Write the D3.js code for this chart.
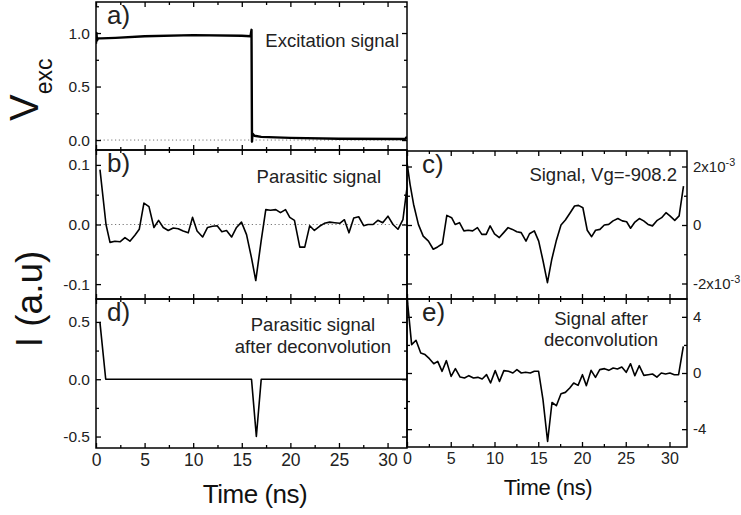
<!DOCTYPE html>
<html lang="en">
<head>
<meta charset="UTF-8">
<title>Excitation, parasitic and deconvolved signals</title>
<script src="https://d3js.org/d3.v7.min.js"></script>
<style>
  body { margin: 0; background: #fff; }
  svg { font-family: "Liberation Sans", Arial, sans-serif; }
  .frame { fill: none; stroke: #000; stroke-width: 1.5px; }
  .trace { fill: none; stroke: #000; stroke-width: 1.6px; stroke-linejoin: round; }
  .thick { stroke-width: 2.4px; }
  .zero { stroke: #777; stroke-width: 1px; stroke-dasharray: 1.2 2.6; }
  .axis path { display: none; }
  .axis line { stroke: #000; stroke-width: 1.3px; }
  .axis text { fill: #222; }
  .note { fill: #222; }
</style>
</head>
<body>
<svg id="chart" width="741" height="515"></svg>
<script>
// a) excitation signal
const timeA = [0, 0.05, 0.1, 0.2, 0.5, 2, 5, 10, 15, 15.9, 16.0, 16.05, 16.1, 16.3, 17, 20, 25, 31.8, 32];
const vexcA = [0.9, 1.0, 0.93, 0.95, 0.95, 0.955, 0.97, 0.98, 0.975, 0.97, 1.03, -0.015, 0.06, 0.04, 0.03, 0.02, 0.012, 0.01, 0.03];

// b) parasitic signal
const timeB = [0.41, 1.03, 1.44, 1.95, 2.47, 2.98, 3.49, 4.0, 4.45, 4.93, 5.45, 5.96, 6.44, 6.92, 7.43, 7.95,
  8.46, 8.97, 9.49, 9.93, 10.4, 10.97, 11.48, 11.99, 12.47, 12.95, 13.43, 13.95, 14.46, 14.97, 15.49, 16.0,
  16.44, 16.99, 17.47, 17.95, 18.5, 18.98, 19.5, 19.94, 20.42, 20.97, 21.48, 21.99, 22.47, 23.0, 23.5, 24.05,
  24.56, 25.08, 25.56, 26.03, 26.52, 27.03, 27.54, 27.99, 28.5, 29.0, 29.5, 30.04, 30.56, 31.07, 31.58, 32.0];
const parasiticB = [0.092, 0.0, -0.030, -0.028, -0.029, -0.022, -0.028, -0.018, -0.008, 0.036,
  0.030, -0.005, 0.007, -0.005, -0.010, -0.006, -0.007, -0.011, -0.014, 0.012,
  -0.011, -0.021, -0.005, -0.003, -0.002, -0.012, -0.010, -0.021, -0.005, 0.004,
  -0.017, -0.056, -0.094, -0.028, 0.025, 0.024, 0.025, 0.020, 0.025, 0.012,
  0.007, -0.038, -0.038, -0.002, -0.010, -0.003, 0.002, 0.004, 0.003, 0.002,
  0.008, -0.014, 0.011, 0.013, -0.002, 0.0, 0.0, 0.007, 0.003, 0.014,
  0.0, -0.008, 0.008, 0.062];

// c) signal at Vg=-908.2, in units of 1e-3
const timeC = [0, 0.35, 0.75, 1.3, 1.85, 2.45, 3.0, 3.5, 4.05, 4.55, 5.1, 5.5, 6.0, 6.5, 7.0, 7.5,
  8.05, 8.55, 9.05, 9.5, 10.0, 10.55, 11.05, 11.55, 12.05, 12.55, 13.05, 13.6, 14.0, 14.55, 15.05, 15.55,
  16.05, 16.55, 17.05, 17.6, 18.1, 18.65, 19.15, 19.6, 20.1, 20.6, 21.1, 21.55, 22.05, 22.55, 23.05, 23.55,
  24.1, 24.6, 25.1, 25.55, 26.05, 26.55, 27.05, 27.55, 28.05, 28.6, 29.1, 29.6, 30.05, 30.6, 31.1, 31.6];
const signalC = [2.13, 1.39, 0.71, 0.02, -0.38, -0.55, -0.83, -0.75, -0.64, 0.33,
  0.25, 0.02, 0.08, -0.20, -0.18, -0.20, -0.09, -0.32, -0.32, -0.03,
  -0.30, -0.43, -0.26, -0.09, -0.15, -0.23, -0.26, -0.55, -0.30, -0.20,
  -0.55, -1.23, -1.97, -1.17, -0.55, 0.0, 0.17, 0.42, 0.65, 0.67,
  0.59, -0.18, -0.40, -0.18, -0.15, 0.0, 0.02, 0.14, 0.22, 0.14,
  0.11, -0.11, 0.10, 0.22, 0.14, 0.02, -0.03, 0.16, 0.25, 0.42,
  0.31, 0.16, 0.31, 1.33];

// d) parasitic signal after deconvolution
const timeD = [0.4, 1.0, 16.0, 16.5, 17.0, 32];
const deconvD = [0.5, 0, 0, -0.5, 0, 0];

// e) signal after deconvolution
const timeE = [0.03, 0.53, 1.03, 1.57, 2.06, 2.56, 3.06, 3.51, 4.01, 4.5, 5.04, 5.53, 6.07, 6.57, 7.07, 7.6,
  8.1, 8.59, 9.09, 9.55, 10.08, 10.57, 11.07, 11.6, 12.1, 12.56, 13.06, 13.55, 14.09, 14.55, 15.04, 15.54,
  16.07, 16.57, 17.07, 17.6, 18.1, 18.6, 19.05, 19.55, 20.05, 20.5, 21.04, 21.54, 22.03, 22.57, 23.06, 23.56,
  24.05, 24.55, 25.05, 25.55, 26.04, 26.54, 27.07, 27.57, 28.06, 28.56, 29.06, 29.55, 30.05, 30.55, 31.04, 31.58];
const deconvE = [5.24, 2.02, 2.33, 1.43, 1.31, 1.02, 0.66, 0.83, 0.12, 0.88,
  -0.24, 0.31, -0.29, -0.36, -0.19, -0.36, -0.31, -0.43, -0.12, -0.71,
  0.17, -0.6, 0.17, 0.12, 0, 0.24, 0, 0.05, 0, 0.12,
  0.12, -1.9, -4.88, -2.1, -2.33, -1.48, -1.38, -1.07, -0.71, -0.88,
  -0.12, -0.9, 0.19, -0.31, 0.24, 0.31, 0.19, 0.36, 0.29, 0.43,
  0.05, 0.66, -0.19, 0.52, -0.17, -0.12, -0.07, -0.29, 0, -0.07,
  0, -0.12, -0.12, 1.9];

const xMajor = [0, 5, 10, 15, 20, 25, 30];
const xMinor = [2.5, 7.5, 12.5, 17.5, 22.5, 27.5];

const svg = d3.select("#chart");

function panel(cfg) {
  const x = d3.scaleLinear().domain([0, 32]).range(cfg.xr);
  const y = d3.scaleLinear().domain(cfg.yd).range(cfg.yr);
  const g = svg.append("g");
  const clipId = "clip-" + cfg.id;
  g.append("clipPath").attr("id", clipId).append("rect")
    .attr("x", cfg.xr[0]).attr("y", cfg.yr[1])
    .attr("width", cfg.xr[1] - cfg.xr[0]).attr("height", cfg.yr[0] - cfg.yr[1]);

  if (cfg.zero) {
    g.append("line").attr("class", "zero")
      .attr("x1", cfg.xr[0]).attr("x2", cfg.xr[1])
      .attr("y1", y(0)).attr("y2", y(0));
  }

  const data = cfg.t.map((t, i) => [t, cfg.v[i]]);
  g.append("path").datum(data)
    .attr("class", "trace" + (cfg.thick ? " thick" : ""))
    .attr("clip-path", `url(#${clipId})`)
    .attr("d", d3.line().x(d => x(d[0])).y(d => y(d[1])));

  // inward ticks on all four sides
  const sides = [
    { ax: d3.axisLeft(y), tr: `translate(${cfg.xr[0]},0)`, major: cfg.yMajor, minor: cfg.yMinor, lab: cfg.side === "left" },
    { ax: d3.axisRight(y), tr: `translate(${cfg.xr[1]},0)`, major: cfg.yMajor, minor: cfg.yMinor, lab: cfg.side === "right" },
    { ax: d3.axisTop(x), tr: `translate(0,${cfg.yr[1]})`, major: xMajor, minor: xMinor, lab: false },
    { ax: d3.axisBottom(x), tr: `translate(0,${cfg.yr[0]})`, major: xMajor, minor: xMinor, lab: cfg.xLabels }
  ];
  sides.forEach((s, k) => {
    const isX = k >= 2;
    const labels = isX ? xMajor.map(String) : cfg.yLabels;
    const major = g.append("g").attr("class", "axis").attr("transform", s.tr)
      .style("font-size", (isX ? cfg.xFont : cfg.yFont) + "px")
      .call(s.ax.tickValues(s.major).tickSize(-5).tickPadding(6)
        .tickFormat((d, i) => s.lab ? labels[i] : ""));
    g.append("g").attr("class", "axis").attr("transform", s.tr)
      .call(s.ax.tickValues(s.minor).tickSize(-3).tickFormat(""));
    if (s.lab && !isX && cfg.sup) {
      major.selectAll("text").each(function (d, i) {
        const sup = cfg.sup[i];
        if (!sup) return;
        d3.select(this).append("tspan").attr("dy", "-0.55em").style("font-size", "0.72em").text(sup);
      });
    }
  });

  g.append("rect").attr("class", "frame")
    .attr("x", cfg.xr[0]).attr("y", cfg.yr[1])
    .attr("width", cfg.xr[1] - cfg.xr[0]).attr("height", cfg.yr[0] - cfg.yr[1]);

  g.append("text").attr("class", "note")
    .attr("x", cfg.xr[0] + (cfg.side === "right" ? 15 : 11)).attr("y", cfg.yr[1] + 22)
    .style("font-size", "26px").text(cfg.tag);

  cfg.notes.forEach(n => {
    g.append("text").attr("class", "note")
      .attr("x", n[0]).attr("y", n[1]).attr("text-anchor", n[3] || "start")
      .style("font-size", "18.5px").text(n[2]);
  });
}

panel({ id: "a", xr: [96, 407], yr: [150, 2], yd: [-0.093, 1.29], t: timeA, v: vexcA, thick: true, zero: true,
  yMajor: [0, 0.5, 1.0], yMinor: [0.25, 0.75, 1.25], yLabels: ["0.0", "0.5", "1.0"], side: "left",
  yFont: 15.5, xFont: 17, xLabels: false, tag: "a)",
  notes: [[399, 47, "Excitation signal", "end"]] });

panel({ id: "b", xr: [96, 407], yr: [299, 150], yd: [-0.125, 0.125], t: timeB, v: parasiticB, zero: true,
  yMajor: [-0.1, 0, 0.1], yMinor: [-0.05, 0.05], yLabels: ["-0.1", "0.0", "0.1"], side: "left",
  yFont: 15.5, xFont: 17, xLabels: false, tag: "b)",
  notes: [[381, 183, "Parasitic signal", "end"]] });

panel({ id: "c", xr: [407, 687], yr: [299, 151], yd: [-2.53, 2.53], t: timeC, v: signalC,
  yMajor: [-2, 0, 2], yMinor: [-1, 1], yLabels: ["-2x10", "0", "2x10"], sup: ["-3", null, "-3"], side: "right",
  yFont: 15, xFont: 15.5, xLabels: false, tag: "c)",
  notes: [[677, 181, "Signal, Vg=-908.2", "end"]] });

panel({ id: "d", xr: [96, 407], yr: [448, 299], yd: [-0.6, 0.7], t: timeD, v: deconvD,
  yMajor: [-0.5, 0, 0.5], yMinor: [-0.25, 0.25], yLabels: ["-0.5", "0.0", "0.5"], side: "left",
  yFont: 15.5, xFont: 17.5, xLabels: true, tag: "d)",
  notes: [[313, 331, "Parasitic signal", "middle"], [313, 353, "after deconvolution", "middle"]] });

panel({ id: "e", xr: [407, 687], yr: [447, 299], yd: [-5.27, 5.27], t: timeE, v: deconvE,
  yMajor: [-4, 0, 4], yMinor: [-2, 2], yLabels: ["-4", "0", "4"], side: "right",
  yFont: 15, xFont: 16, xLabels: true, tag: "e)",
  notes: [[601, 325, "Signal after", "middle"], [601, 346, "deconvolution", "middle"]] });

// axis titles
const vlab = svg.append("text").attr("transform", "translate(38,121) rotate(-90)").attr("fill", "#111");
vlab.append("tspan").style("font-size", "40px").text("V");
vlab.append("tspan").attr("dy", 14).style("font-size", "23px").text("exc");

svg.append("text").attr("transform", "translate(42,299) rotate(-90)")
  .attr("text-anchor", "middle").attr("fill", "#111").style("font-size", "37px").text("I (a.u)");

svg.append("text").attr("x", 255).attr("y", 503).attr("text-anchor", "middle")
  .attr("fill", "#111").style("font-size", "26px").style("letter-spacing", "-0.5px").text("Time (ns)");
svg.append("text").attr("x", 548).attr("y", 495).attr("text-anchor", "middle")
  .attr("fill", "#111").style("font-size", "22px").style("letter-spacing", "-0.4px").text("Time (ns)");
</script>
</body>
</html>
